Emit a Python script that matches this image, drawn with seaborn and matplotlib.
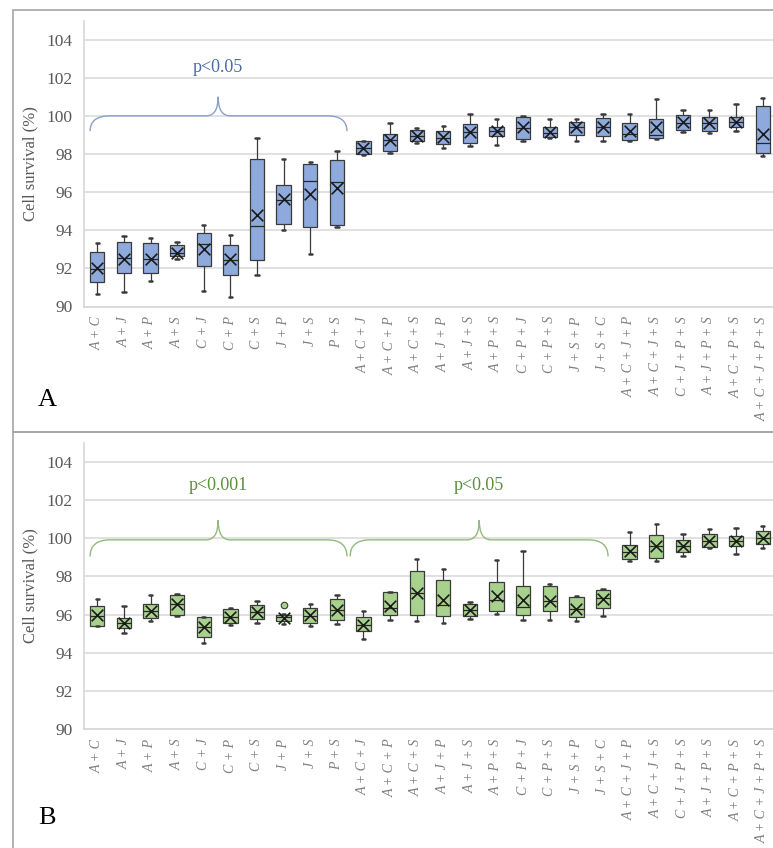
import numpy as np
import pandas as pd
import matplotlib
matplotlib.use("Agg")
import matplotlib.pyplot as plt
from matplotlib.path import Path
from matplotlib.patches import PathPatch, Rectangle
import seaborn as sns

sns.set_theme(style="white")
plt.rcParams['font.family'] = ['Liberation Serif', 'DejaVu Serif']

# combinations on the x axis (same for both panels)
labels = ['A + C', 'A + J', 'A + P', 'A + S', 'C + J', 'C + P', 'C + S', 'J + P',
          'J + S', 'P + S', 'A + C + J', 'A + C + P', 'A + C + S', 'A + J + P',
          'A + J + S', 'A + P + S', 'C + P + J', 'C + P + S', 'J + S + P', 'J + S + C',
          'A + C + J + P', 'A + C + J + S', 'C + J + P + S', 'A + J + P + S',
          'A + C + P + S', 'A + C + J + P + S']

# panel A: whisker low, Q1, median, Q3, whisker high, mean
a_lo = [90.63, 90.75, 91.35, 92.51, 90.81, 90.49, 91.67, 93.99, 92.76, 94.17, 97.92, 98.07, 98.59,
        98.30, 98.44, 98.49, 98.66, 98.83, 98.68, 98.68, 98.70, 98.80, 99.13, 99.08, 99.18, 97.88]
a_q1 = [91.30, 91.75, 91.75, 92.63, 92.14, 91.67, 92.42, 94.31, 94.17, 94.27, 97.99, 98.18, 98.66,
        98.54, 98.56, 98.96, 98.80, 98.87, 99.01, 98.92, 98.73, 98.83, 99.27, 99.23, 99.43, 98.05]
a_med = [91.95, 92.55, 92.50, 92.80, 93.30, 92.45, 94.21, 95.60, 96.56, 96.51, 98.30, 98.75, 98.95,
         98.85, 99.15, 99.20, 99.35, 99.10, 99.40, 99.40, 99.05, 99.00, 99.65, 99.60, 99.70, 98.55]
a_q3 = [92.84, 93.39, 93.33, 93.21, 93.84, 93.25, 97.72, 96.39, 97.48, 97.67, 98.66, 99.03, 99.25,
        99.20, 99.55, 99.43, 99.95, 99.43, 99.70, 99.91, 99.65, 99.83, 100.03, 99.95, 99.95, 100.49]
a_hi = [93.33, 93.72, 93.58, 93.39, 94.25, 93.75, 98.84, 97.73, 97.60, 98.13, 98.70, 99.65, 99.34,
        99.48, 100.07, 99.83, 99.97, 99.81, 99.81, 100.09, 100.09, 100.87, 100.28, 100.28, 100.61, 100.92]
a_mean = [92.04, 92.51, 92.47, 92.82, 93.02, 92.47, 94.79, 95.64, 95.92, 96.23, 98.30, 98.73, 98.96,
          98.87, 99.13, 99.22, 99.39, 99.13, 99.39, 99.39, 99.18, 99.39, 99.67, 99.62, 99.70, 99.04]

# panel B
b_lo = [95.40, 95.05, 95.67, 95.93, 94.53, 95.46, 95.54, 95.49, 95.40, 95.52, 94.74, 95.73, 95.64,
        95.56, 95.77, 96.05, 95.73, 95.73, 95.68, 95.94, 98.81, 98.81, 99.08, 99.47, 99.17, 99.47]
b_q1 = [95.42, 95.32, 95.84, 95.98, 94.84, 95.54, 95.75, 95.67, 95.58, 95.70, 95.16, 95.99, 95.99,
        95.91, 95.94, 96.17, 95.99, 96.17, 95.85, 96.34, 98.90, 98.99, 99.29, 99.52, 99.61, 99.70]
b_med = [95.95, 95.58, 96.20, 96.55, 95.35, 95.85, 96.15, 95.85, 95.95, 96.25, 95.45, 96.34, 97.13,
         96.52, 96.25, 96.78, 96.38, 96.70, 96.30, 96.85, 99.30, 99.60, 99.60, 99.88, 99.84, 100.02]
b_q3 = [96.45, 95.84, 96.58, 97.05, 95.88, 96.28, 96.49, 96.00, 96.32, 96.81, 95.87, 97.16, 98.30,
        97.81, 96.57, 97.69, 97.51, 97.48, 96.92, 97.30, 99.65, 100.18, 99.93, 100.23, 100.11, 100.37]
b_hi = [96.82, 96.46, 97.04, 97.07, 95.90, 96.33, 96.72, 96.02, 96.54, 97.04, 96.20, 97.18, 98.91,
        98.40, 96.64, 98.84, 99.31, 97.62, 96.99, 97.34, 100.32, 100.76, 100.23, 100.50, 100.53, 100.67]
b_mean = [95.96, 95.58, 96.19, 96.54, 95.35, 95.89, 96.14, 95.84, 95.96, 96.25, 95.47, 96.46, 97.13,
          96.78, 96.25, 96.95, 96.78, 96.73, 96.31, 96.83, 99.31, 99.61, 99.61, 99.88, 99.84, 100.02]
b_outlier_cat = ['J + P']
b_outlier_val = [96.49]


def five_point(lo, q1, med, q3, hi):
    # five values per group -> seaborn's quartiles land exactly on q1/med/q3
    rows = []
    for i, lab in enumerate(labels):
        for v in (lo[i], q1[i], med[i], q3[i], hi[i]):
            rows.append((lab, v))
    return pd.DataFrame(rows, columns=['combo', 'survival'])


def brace(ax, x0, x1, xm, ylo, ymid, ytop, color, r=0.75, r2=0.45):
    verts = [(x0, ylo), (x0, ymid), (x0 + r, ymid),
             (xm - r2, ymid), (xm, ymid), (xm, ytop),
             (xm, ymid), (xm + r2, ymid),
             (x1 - r, ymid), (x1, ymid), (x1, ylo)]
    codes = [Path.MOVETO, Path.CURVE3, Path.CURVE3,
             Path.LINETO, Path.CURVE3, Path.CURVE3,
             Path.CURVE3, Path.CURVE3,
             Path.LINETO, Path.CURVE3, Path.CURVE3]
    ax.add_patch(PathPatch(Path(verts, codes), facecolor='none', edgecolor=color, lw=1.0, zorder=1))


def draw_panel(ax, lo, q1, med, q3, hi, mean, fill):
    df = five_point(lo, q1, med, q3, hi)
    sns.boxplot(data=df, x='combo', y='survival', order=labels, whis=(0, 100), width=0.54,
                color=fill, saturation=1, linecolor='#3a3a3a', linewidth=0.9,
                showfliers=False, ax=ax, capwidths=0.13,
                medianprops={'color': '#262626', 'linewidth': 0.9},
                capprops={'color': '#3a3a3a', 'linewidth': 1.8})
    ax.scatter(np.arange(len(labels)), mean, marker='x', s=70, color='#1a1a1a',
               linewidths=1.2, zorder=5)
    ax.set_xlim(-0.5, len(labels) - 0.5)
    ax.set_ylim(90, 105)
    ax.set_yticks(np.arange(90, 105, 2))
    ax.yaxis.grid(True, color='#dedede', linewidth=1.3)
    ax.set_axisbelow(True)
    for s in ['top', 'right']:
        ax.spines[s].set_visible(False)
    ax.spines['left'].set_color('#d9d9d9')
    ax.spines['bottom'].set_color('#d9d9d9')
    ax.spines['bottom'].set_linewidth(1.3)
    ax.tick_params(axis='y', length=0, pad=8, labelsize=12.5, labelcolor='#595959')
    ax.tick_params(axis='x', length=0, pad=7)
    ax.set_xticks(np.arange(len(labels)))
    ax.set_xticklabels(labels, rotation=90, fontstyle='italic', color='#808080', fontsize=10)
    ax.set_xlabel('')
    ax.set_ylabel('Cell survival (%)', fontsize=12, color='#595959')
    ax.yaxis.set_label_coords(-0.066, 0.5)


fig = plt.figure(figsize=(7.73, 8.48), dpi=100)

# panel frames
fig.add_artist(Rectangle((13 / 773, 1 - 432 / 848), 1.0, 422 / 848, transform=fig.transFigure,
                         facecolor='none', edgecolor='#a6a6a6', lw=1.2))
fig.add_artist(Rectangle((13 / 773, -0.05), 1.0, 1 - 432 / 848 + 0.05, transform=fig.transFigure,
                         facecolor='none', edgecolor='#a6a6a6', lw=1.2))

ax_a = fig.add_axes([84 / 773, 1 - 306.5 / 848, 692 / 773, 286 / 848])
draw_panel(ax_a, a_lo, a_q1, a_med, a_q3, a_hi, a_mean, '#8eaadc')
brace(ax_a, -0.27, 9.38, 4.54, 99.2, 100.0, 101.0, '#8a9fcb')
ax_a.text(4.54, 102.55, 'p<0.05', ha='center', va='center', fontsize=13, color='#4a6aa8')

ax_b = fig.add_axes([84 / 773, 1 - 729 / 848, 692 / 773, 286 / 848])
draw_panel(ax_b, b_lo, b_q1, b_med, b_q3, b_hi, b_mean, '#a9d18e')
ax_b.scatter([labels.index(c) for c in b_outlier_cat], b_outlier_val, marker='o', s=22,
             facecolor='#a9d18e', edgecolor='#3a3a3a', linewidths=0.8, zorder=5)
brace(ax_b, -0.27, 9.38, 4.54, 99.05, 99.92, 100.95, '#93b97e')
brace(ax_b, 9.5, 19.19, 14.35, 99.05, 99.92, 100.95, '#93b97e')
ax_b.text(4.54, 102.77, 'p<0.001', ha='center', va='center', fontsize=13, color='#5a8f3c')
ax_b.text(14.35, 102.77, 'p<0.05', ha='center', va='center', fontsize=13, color='#5a8f3c')

fig.text(47 / 773, 1 - 400 / 848, 'A', fontsize=19, ha='center', va='center', color='black')
fig.text(47 / 773, 1 - 818 / 848, 'B', fontsize=19, ha='center', va='center', color='black')

fig.savefig('out.png', dpi=100)
